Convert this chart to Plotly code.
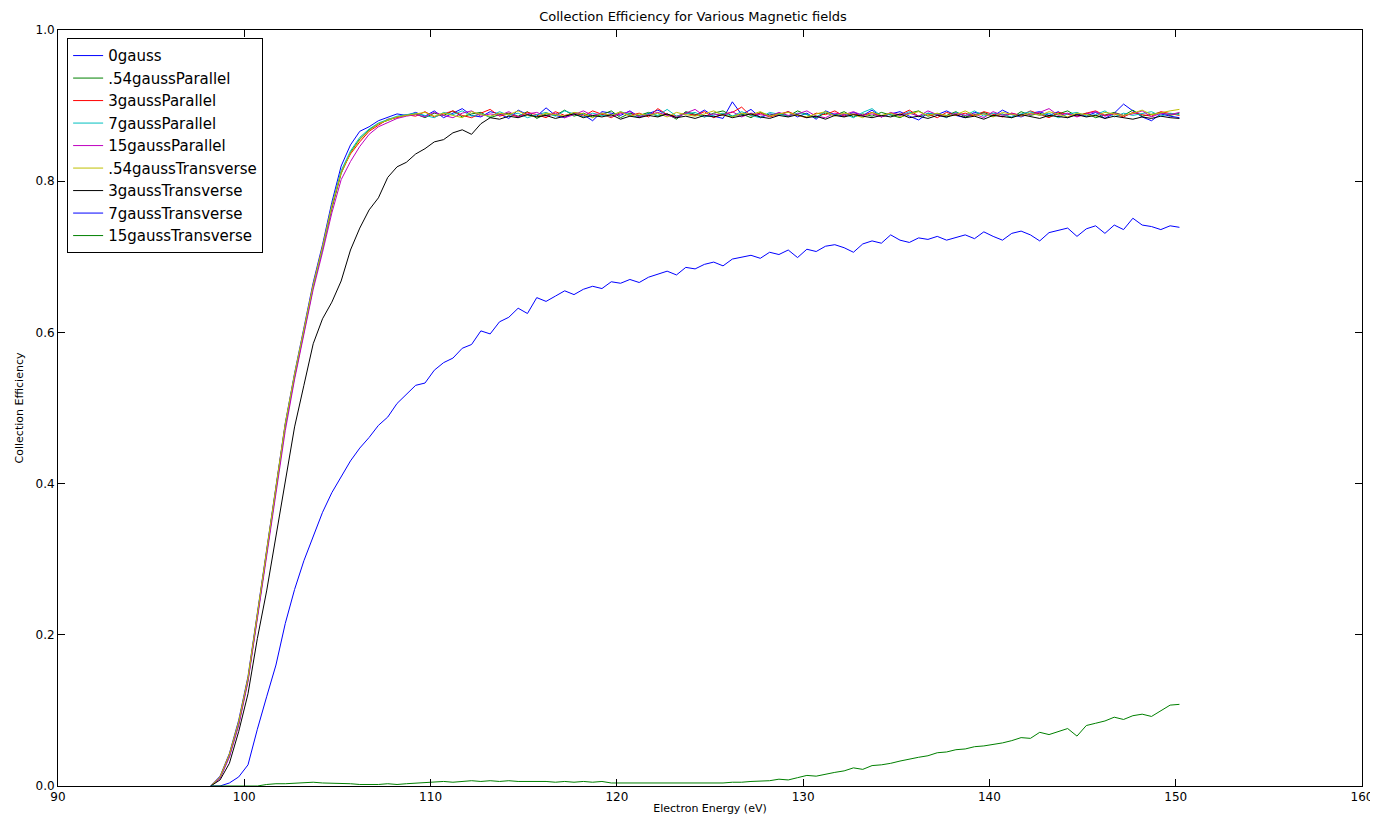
import numpy as np
import plotly.graph_objects as go

# electron energy grid (eV), 0.5 eV steps from 98.2 to 150.2
energy = np.round(np.arange(98.2, 150.21, 0.5), 1)

gauss0 = [0.000, 0.013, 0.043, 0.087, 0.145, 0.230, 0.316, 0.401, 0.480, 0.546, 0.606, 0.666, 0.716, 0.772, 0.820, 0.848, 0.866, 0.872, 0.880, 0.884, 0.889, 0.887,
          0.891, 0.886, 0.893, 0.884, 0.890, 0.896, 0.887, 0.885, 0.892, 0.889,
          0.883, 0.894, 0.888, 0.886, 0.897, 0.887, 0.884, 0.891, 0.888, 0.880,
          0.892, 0.890, 0.887, 0.893, 0.885, 0.889, 0.894, 0.888, 0.884, 0.891,
          0.887, 0.894, 0.886, 0.883, 0.905, 0.888, 0.895, 0.884, 0.889, 0.887,
          0.892, 0.885, 0.890, 0.882, 0.893, 0.888, 0.886, 0.891, 0.887, 0.894,
          0.885, 0.889, 0.892, 0.886, 0.881, 0.890, 0.888, 0.893, 0.887, 0.884,
          0.891, 0.889, 0.886, 0.894, 0.888, 0.885, 0.890, 0.892, 0.887, 0.892,
          0.884, 0.889, 0.886, 0.891, 0.883, 0.890, 0.902, 0.893, 0.885, 0.880,
          0.889, 0.886, 0.884]

par_054 = [0.000, 0.011, 0.040, 0.082, 0.140, 0.224, 0.310, 0.396, 0.476, 0.541, 0.601, 0.660, 0.710, 0.764, 0.810, 0.838, 0.856, 0.868, 0.876, 0.881, 0.885, 0.887,
           0.889, 0.884, 0.890, 0.887, 0.893, 0.885, 0.889, 0.891, 0.884, 0.888,
           0.890, 0.886, 0.892, 0.883, 0.889, 0.887, 0.894, 0.886, 0.890, 0.885,
           0.888, 0.893, 0.884, 0.890, 0.887, 0.891, 0.886, 0.889, 0.882, 0.892,
           0.888, 0.885, 0.890, 0.893, 0.886, 0.889, 0.884, 0.891, 0.887, 0.890,
           0.886, 0.893, 0.888, 0.884, 0.890, 0.887, 0.892, 0.885, 0.889, 0.886,
           0.891, 0.888, 0.884, 0.890, 0.893, 0.886, 0.889, 0.887, 0.892, 0.885,
           0.888, 0.891, 0.886, 0.889, 0.884, 0.892, 0.887, 0.890, 0.885, 0.889,
           0.893, 0.886, 0.890, 0.884, 0.888, 0.891, 0.887, 0.894, 0.886, 0.889,
           0.891, 0.887, 0.890]

par_3 = [0.000, 0.012, 0.041, 0.084, 0.142, 0.227, 0.313, 0.398, 0.478, 0.543, 0.603, 0.662, 0.712, 0.766, 0.812, 0.836, 0.852, 0.866, 0.874, 0.882, 0.884, 0.888,
         0.886, 0.892, 0.885, 0.889, 0.893, 0.887, 0.884, 0.890, 0.895, 0.886,
         0.889, 0.885, 0.891, 0.888, 0.884, 0.892, 0.887, 0.890, 0.886, 0.893,
         0.889, 0.884, 0.891, 0.887, 0.890, 0.885, 0.896, 0.888, 0.886, 0.890,
         0.887, 0.892, 0.884, 0.889, 0.891, 0.898, 0.886, 0.890, 0.885, 0.889,
         0.892, 0.887, 0.884, 0.890, 0.888, 0.893, 0.886, 0.889, 0.887, 0.891,
         0.885, 0.890, 0.888, 0.894, 0.886, 0.889, 0.884, 0.891, 0.887, 0.890,
         0.886, 0.892, 0.888, 0.885, 0.890, 0.887, 0.893, 0.889, 0.884, 0.891,
         0.888, 0.886, 0.890, 0.893, 0.887, 0.889, 0.885, 0.891, 0.888, 0.886,
         0.892, 0.889, 0.887]

par_7 = [0.000, 0.011, 0.039, 0.083, 0.141, 0.226, 0.312, 0.397, 0.477, 0.544, 0.604, 0.661, 0.711, 0.768, 0.814, 0.840, 0.858, 0.869, 0.877, 0.882, 0.886, 0.888,
         0.890, 0.887, 0.884, 0.891, 0.888, 0.893, 0.886, 0.889, 0.885, 0.892,
         0.887, 0.890, 0.884, 0.888, 0.891, 0.886, 0.893, 0.889, 0.885, 0.890,
         0.887, 0.886, 0.892, 0.888, 0.884, 0.890, 0.887, 0.895, 0.886, 0.889,
         0.891, 0.885, 0.888, 0.890, 0.886, 0.892, 0.887, 0.884, 0.891, 0.889,
         0.886, 0.890, 0.888, 0.885, 0.892, 0.887, 0.889, 0.884, 0.891, 0.896,
         0.886, 0.889, 0.887, 0.892, 0.885, 0.890, 0.888, 0.884, 0.891, 0.887,
         0.893, 0.886, 0.890, 0.888, 0.885, 0.889, 0.892, 0.887, 0.890, 0.884,
         0.889, 0.891, 0.886, 0.888, 0.893, 0.885, 0.890, 0.887, 0.889, 0.892,
         0.886, 0.890, 0.888]

par_15 = [0.000, 0.010, 0.038, 0.080, 0.138, 0.222, 0.307, 0.392, 0.470, 0.538, 0.598, 0.657, 0.706, 0.758, 0.802, 0.826, 0.846, 0.862, 0.872, 0.878, 0.883, 0.886,
          0.888, 0.885, 0.891, 0.887, 0.884, 0.890, 0.893, 0.886, 0.889, 0.887,
          0.892, 0.885, 0.889, 0.891, 0.886, 0.890, 0.884, 0.888, 0.893, 0.887,
          0.890, 0.886, 0.889, 0.892, 0.885, 0.888, 0.891, 0.887, 0.884, 0.890,
          0.895, 0.886, 0.889, 0.887, 0.892, 0.885, 0.890, 0.888, 0.886, 0.891,
          0.887, 0.889, 0.893, 0.886, 0.884, 0.890, 0.888, 0.892, 0.887, 0.889,
          0.885, 0.891, 0.887, 0.890, 0.886, 0.893, 0.888, 0.885, 0.890, 0.887,
          0.889, 0.884, 0.892, 0.887, 0.890, 0.886, 0.888, 0.891, 0.896, 0.887,
          0.890, 0.885, 0.889, 0.892, 0.886, 0.890, 0.887, 0.889, 0.893, 0.885,
          0.890, 0.888, 0.891]

trans_054 = [0.000, 0.012, 0.042, 0.085, 0.143, 0.228, 0.314, 0.399, 0.479, 0.545, 0.605, 0.663, 0.713, 0.767, 0.811, 0.837, 0.855, 0.867, 0.876, 0.881, 0.885, 0.887,
             0.889, 0.891, 0.886, 0.890, 0.887, 0.884, 0.892, 0.888, 0.886, 0.890,
             0.888, 0.893, 0.887, 0.885, 0.890, 0.888, 0.886, 0.891, 0.889, 0.884,
             0.890, 0.887, 0.892, 0.886, 0.889, 0.887, 0.890, 0.885, 0.891, 0.888,
             0.886, 0.889, 0.893, 0.887, 0.885, 0.890, 0.888, 0.892, 0.886, 0.889,
             0.891, 0.887, 0.885, 0.889, 0.892, 0.886, 0.890, 0.888, 0.884, 0.891,
             0.887, 0.890, 0.885, 0.889, 0.892, 0.887, 0.890, 0.886, 0.888, 0.893,
             0.887, 0.889, 0.885, 0.891, 0.888, 0.886, 0.890, 0.887, 0.892, 0.889,
             0.885, 0.890, 0.888, 0.886, 0.891, 0.889, 0.887, 0.890, 0.894, 0.888,
             0.891, 0.893, 0.895]

trans_3 = [0.000, 0.008, 0.030, 0.072, 0.122, 0.195, 0.258, 0.330, 0.400, 0.475, 0.530, 0.585, 0.618, 0.640, 0.668, 0.709,
           0.738, 0.762, 0.778, 0.805, 0.819, 0.825, 0.836, 0.843, 0.852, 0.855, 0.864, 0.868, 0.862, 0.876, 0.884, 0.882,
           0.886, 0.884, 0.888, 0.885, 0.887, 0.883, 0.886, 0.889, 0.884, 0.887,
           0.885, 0.888, 0.882, 0.886, 0.884, 0.887, 0.885, 0.889, 0.884, 0.886,
           0.883, 0.887, 0.885, 0.888, 0.884, 0.886, 0.889, 0.885, 0.883, 0.887,
           0.885, 0.888, 0.884, 0.886, 0.882, 0.887, 0.885, 0.888, 0.886, 0.884,
           0.887, 0.885, 0.889, 0.884, 0.886, 0.883, 0.887, 0.885, 0.888, 0.884,
           0.886, 0.882, 0.887, 0.885, 0.884, 0.888, 0.886, 0.883, 0.887, 0.885,
           0.884, 0.888, 0.885, 0.887, 0.883, 0.886, 0.884, 0.882, 0.885, 0.883,
           0.886, 0.884, 0.883]

trans_7 = [0.000, 0.000, 0.004, 0.012, 0.028, 0.075, 0.118, 0.160, 0.215, 0.260,
           0.298, 0.330, 0.362, 0.388, 0.410, 0.430, 0.447, 0.461, 0.477, 0.488,
           0.506, 0.518, 0.530, 0.533, 0.550, 0.560, 0.566, 0.579, 0.584, 0.602,
           0.598, 0.614, 0.620, 0.632, 0.625, 0.646, 0.641, 0.648, 0.655, 0.650,
           0.657, 0.661, 0.658, 0.667, 0.665, 0.670, 0.666, 0.673, 0.677, 0.681,
           0.676, 0.686, 0.684, 0.690, 0.693, 0.688, 0.697, 0.700, 0.702, 0.698,
           0.706, 0.703, 0.709, 0.699, 0.710, 0.707, 0.714, 0.716, 0.712, 0.706,
           0.717, 0.721, 0.718, 0.729, 0.722, 0.719, 0.725, 0.723, 0.727, 0.722,
           0.726, 0.729, 0.724, 0.733, 0.727, 0.722, 0.731, 0.734, 0.729, 0.721,
           0.732, 0.735, 0.738, 0.727, 0.737, 0.741, 0.731, 0.742, 0.736, 0.751,
           0.742, 0.740, 0.736, 0.741, 0.739]

trans_15 = [0.000, 0.000, 0.000, 0.000, 0.000, 0.000, 0.002, 0.003, 0.003, 0.004,
            0.004, 0.005, 0.004, 0.004, 0.003, 0.003, 0.002, 0.002, 0.002, 0.003,
            0.002, 0.003, 0.004, 0.004, 0.005, 0.006, 0.005, 0.006, 0.007, 0.006,
            0.007, 0.006, 0.007, 0.006, 0.006, 0.007, 0.006, 0.005, 0.006, 0.005,
            0.006, 0.005, 0.006, 0.004, 0.004, 0.003, 0.004, 0.003, 0.003, 0.004,
            0.003, 0.004, 0.003, 0.004, 0.003, 0.004, 0.005, 0.005, 0.006, 0.007,
            0.007, 0.009, 0.008, 0.011, 0.014, 0.013, 0.016, 0.018, 0.020, 0.024,
            0.022, 0.027, 0.028, 0.030, 0.033, 0.036, 0.038, 0.040, 0.044, 0.045,
            0.048, 0.049, 0.052, 0.053, 0.055, 0.057, 0.060, 0.064, 0.063, 0.071,
            0.068, 0.072, 0.076, 0.066, 0.080, 0.083, 0.086, 0.091, 0.088, 0.093,
            0.095, 0.092, 0.100, 0.107, 0.108]

names = ['0gauss', '.54gaussParallel', '3gaussParallel', '7gaussParallel', '15gaussParallel',
         '.54gaussTransverse', '3gaussTransverse', '7gaussTransverse', '15gaussTransverse']
series = [gauss0, par_054, par_3, par_7, par_15, trans_054, trans_3, trans_7, trans_15]

# old matplotlib colour cycle b, g, r, c, m, y, k (then wraps around)
colors = ['#0000ff', '#008000', '#ff0000', '#00bfbf', '#bf00bf', '#bfbf00', '#000000', '#0000ff', '#008000']

fig = go.Figure()
for name, vals, col in zip(names, series, colors):
    fig.add_trace(go.Scatter(x=energy, y=vals, mode='lines', name=name,
                             line=dict(color=col, width=1)))

axis_style = dict(showline=True, linecolor='black', linewidth=1, mirror='ticks',
                  ticks='inside', ticklen=7, tickcolor='black', showgrid=False,
                  zeroline=False, automargin=False, tickfont=dict(size=12, color='black'))

# the page body adds an 8px margin, so the figure is a bit smaller than the window
fig.update_layout(
    width=1370, height=813,
    paper_bgcolor='white', plot_bgcolor='white',
    font=dict(family='DejaVu Sans', color='black'),
    margin=dict(l=50, r=16, t=22, b=35),
    title=dict(text='Collection Efficiency for Various Magnetic fields', x=0.5, xanchor='center',
               y=0.989, yanchor='middle', font=dict(size=13)),
    showlegend=True,
    legend=dict(x=0.007, y=0.989, xanchor='left', yanchor='top', bgcolor='white',
                bordercolor='black', borderwidth=1, font=dict(size=15),
                tracegroupgap=0),
)
fig.update_xaxes(range=[90, 160], dtick=10, title=dict(text='Electron Energy (eV)', font=dict(size=11), standoff=0),
                 **axis_style)
fig.update_yaxes(range=[0, 1.0], dtick=0.2, tickformat='.1f', title=dict(text='Collection Efficiency', font=dict(size=11), standoff=9),
                 **axis_style)

fig.write_html("out.html")
